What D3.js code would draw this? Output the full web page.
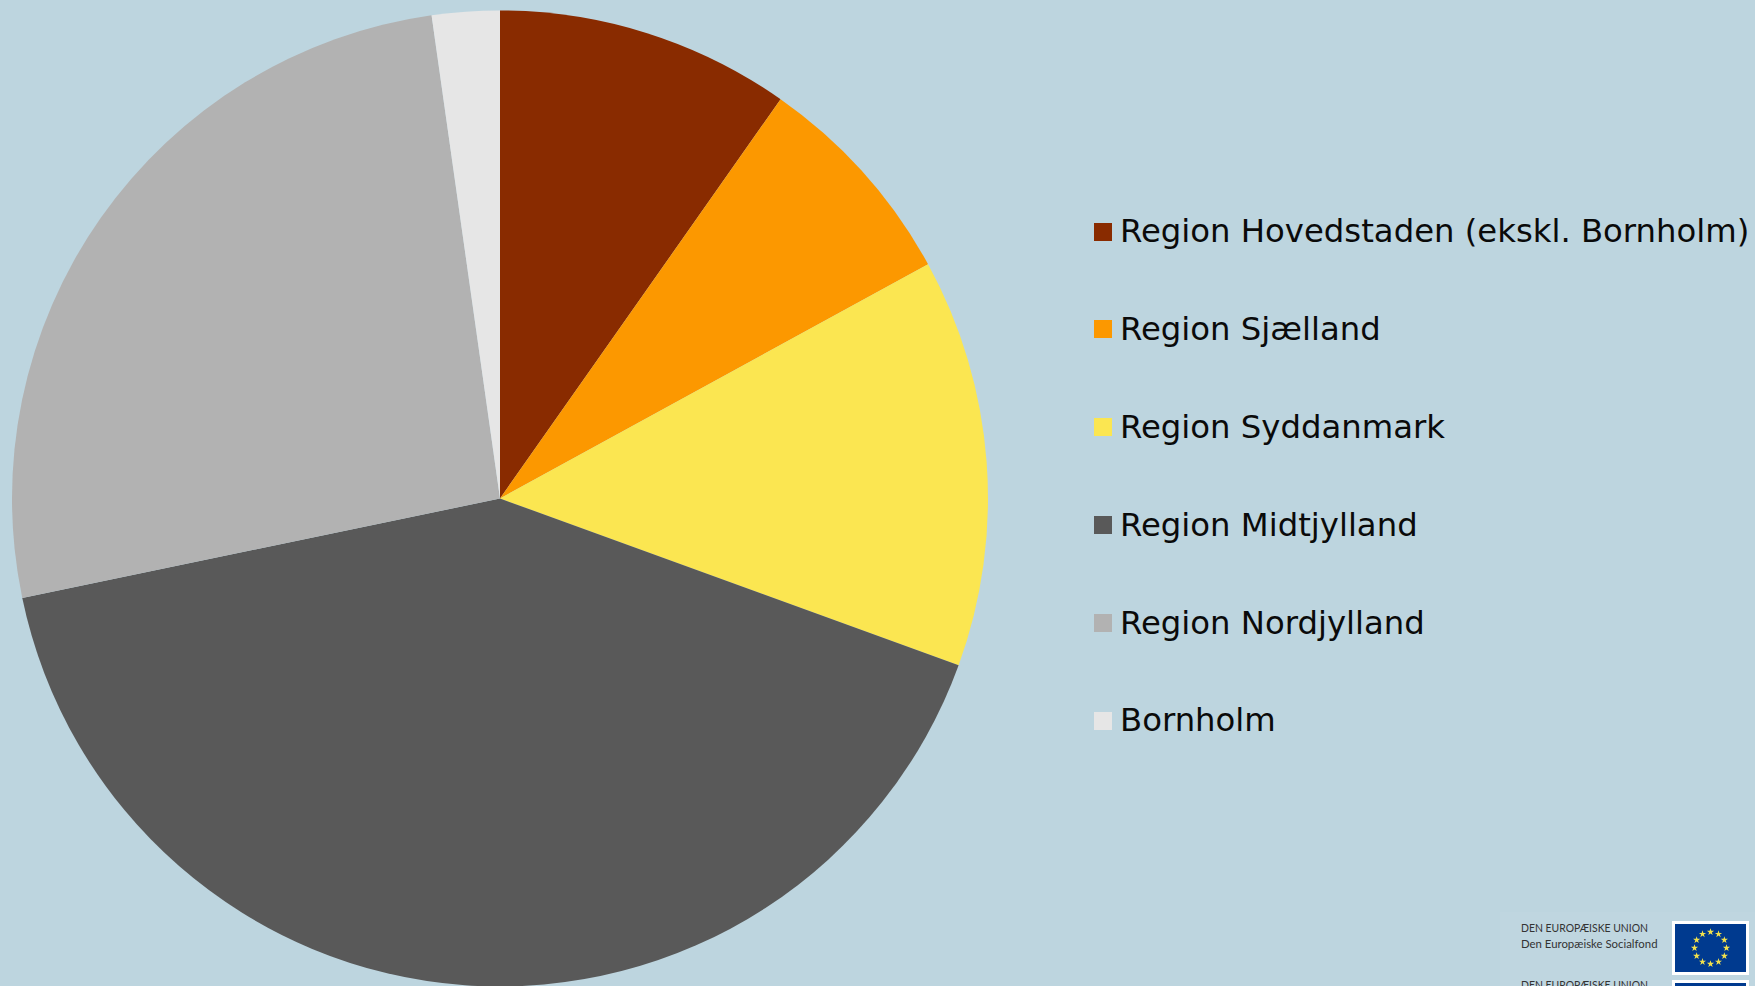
<!DOCTYPE html>
<html><head><meta charset="utf-8">
<script src="https://cdn.jsdelivr.net/npm/d3@7"></script>
<style>html,body{margin:0;padding:0;background:#bdd5df;overflow:hidden}svg{display:block}</style>
</head><body><svg id="c" width="1755" height="986"></svg>
<script>
const categories=["Region Hovedstaden (ekskl. Bornholm)","Region Sjælland","Region Syddanmark","Region Midtjylland","Region Nordjylland","Bornholm"];
const values=[9.75,7.28,13.52,41.18,26.03,2.24];
const colors=["#892b00","#fc9800","#fbe651","#595959","#b2b2b2","#e6e6e6"];
const logoLines=["DEN EUROPÆISKE UNION","Den Europæiske Socialfond"];
const svg=d3.select("#c");
const W=1755,H=986,cx=500,cy=498.5,R=488;
svg.append("rect").attr("width",W).attr("height",H).attr("fill","#bdd5df");
const pie=d3.pie().sort(null).value(d=>d);
const arc=d3.arc().innerRadius(0).outerRadius(R);
svg.append("g").attr("transform",`translate(${cx},${cy})`).selectAll("path").data(pie(values)).join("path")
 .attr("d",arc).attr("fill",(d,i)=>colors[i]);
const y=d3.scalePoint().domain(categories).range([231.5,720.5]);
const lg=svg.append("g");
lg.selectAll("rect").data(categories).join("rect").attr("x",1094).attr("y",d=>Math.round(y(d)-9)).attr("width",18).attr("height",18).attr("fill",(d,i)=>colors[i]);
lg.selectAll("text").data(categories).join("text").attr("x",1120).attr("y",d=>Math.round(y(d)+10.9)).attr("fill","#0a0a0a")
 .attr("font-family","'DejaVu Sans'").attr("font-size",32.3).text(d=>d);
// logo
const logo=svg.append("g");
logo.append("rect").attr("x",1500).attr("y",912).attr("width",255).attr("height",74).attr("fill","#bfd6e0");
function flag(x,y0){
 const g=logo.append("g");
 g.append("rect").attr("x",x).attr("y",y0).attr("width",77).attr("height",54).attr("fill","#fff");
 g.append("rect").attr("x",x+3).attr("y",y0+3).attr("width",71).attr("height",48).attr("fill","#003a8f");
 const star=d3.symbol().type(d3.symbolStar).size(16);
 d3.range(12).forEach(i=>{const a=i*Math.PI/6;
  g.append("path").attr("d",star()).attr("fill","#f2e14c").attr("transform",`translate(${x+38.5+16*Math.sin(a)},${y0+27-16*Math.cos(a)})`);});
}
flag(1672,921);flag(1672,980);
const logoText=(s,yy,len)=>logo.append("text").attr("x",1521).attr("y",yy).attr("font-family","Lato").attr("font-size",12.2).attr("fill","#333")
 .attr("textLength",len).attr("lengthAdjust","spacingAndGlyphs").text(s);
logoText(logoLines[0],932,127);
logoText(logoLines[1],948,136.5);
logoText(logoLines[0],989,127);
</script></body></html>
